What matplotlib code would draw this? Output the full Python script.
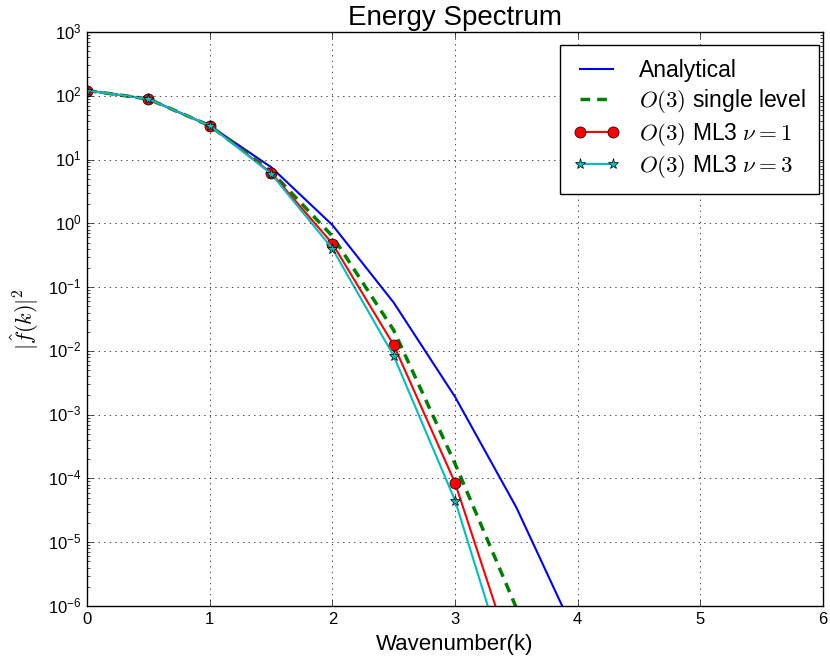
import numpy as np
import matplotlib
matplotlib.use('Agg')
from matplotlib import pyplot as plt

plt.style.use('classic')
plt.rcParams['font.family'] = ['Liberation Sans', 'DejaVu Sans']
plt.rcParams['mathtext.fontset'] = 'cm'
plt.rcParams['lines.scale_dashes'] = False

# wavenumbers and spectrum values
k = [0.0, 0.5, 1.0, 1.5, 2.0, 2.5, 3.0, 3.5, 4.0]
analytical = [121, 89, 34, 7.6, 0.94, 0.057, 1.9e-3, 3.5e-5, 3.0e-7]
single_level = [121, 89, 34, 6.5, 0.63, 0.021, 1.7e-4, 9.3e-7, 5e-9]
ml3_nu1 = [121, 89, 34, 6.2, 0.48, 0.0123, 8.5e-5, 1.0e-7, 1e-10]
ml3_nu3 = [121, 89, 34, 6.0, 0.40, 8.3e-3, 4.5e-5, 3.6e-8, 1e-11]

fig = plt.figure(figsize=(8.3, 6.64), dpi=100)
ax = fig.add_axes([0.105, 0.0873, 0.8866, 0.8645])

ax.semilogy(k, analytical, 'b-', lw=1.5, label='Analytical')
ax.semilogy(k, single_level, 'g--', lw=2.5, dashes=(7, 5),
            label='$O(3)$ single level')
ax.semilogy(k, ml3_nu1, 'r-', lw=1.5, marker='o', ms=8, mfc='r', mec='k',
            label=r'$O(3)$ ML3 $\nu=1$')
ax.semilogy(k, ml3_nu3, 'c-', lw=1.5, marker='*', ms=8, mfc='c', mec='k',
            label=r'$O(3)$ ML3 $\nu=3$')

ax.set_xlim(0, 6)
ax.set_ylim(1e-6, 1e3)
ax.set_xticks(np.arange(0, 7, 1))
ax.set_yticks([10.0 ** p for p in range(-6, 4)])
ax.tick_params(labelsize=12)
ax.grid(True, which='major', linestyle=':', color='k')

ax.set_title('Energy Spectrum', fontsize=20)
ax.set_xlabel('Wavenumber(k)', fontsize=16)
ax.set_ylabel(r'$|\hat{f}(k)|^2$', fontsize=16)

leg = ax.legend(loc='upper right', bbox_to_anchor=(0.9946, 0.977),
                borderaxespad=0, fontsize=16.5, numpoints=2,
                handlelength=2.05, handletextpad=0.8, labelspacing=0.24,
                borderpad=0.6)

fig.savefig('out.png', dpi=100)
